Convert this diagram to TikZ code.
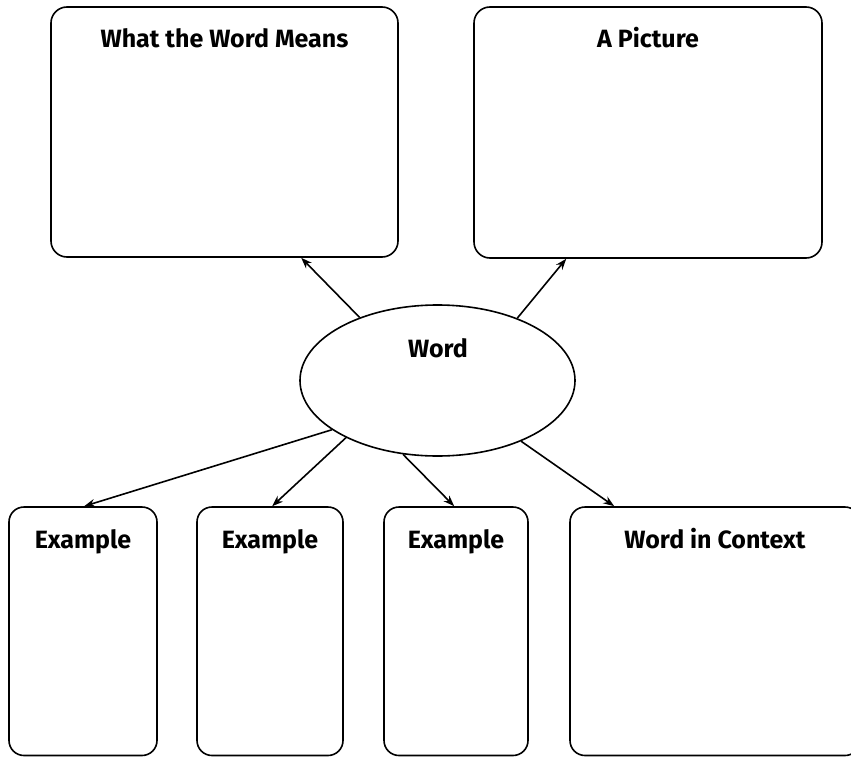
\documentclass[tikz,border=0pt]{standalone}
\usepackage{fontspec}
\setmainfont{Fira Sans}
\usetikzlibrary{shapes.geometric,arrows.meta,calc}
\tikzset{
  box/.style={draw=black, line width=1.6pt, rounded corners=16pt, rectangle, inner sep=0pt, fill=white},
  oval/.style={draw=black, line width=1.6pt, ellipse, inner sep=0pt, minimum width=275pt, minimum height=151pt},
  title/.style={anchor=base, inner sep=0pt, font=\fontsize{25}{30}\selectfont\bfseries},
  conn/.style={line width=1.6pt, -{Stealth[length=11pt,width=8pt]}}
}
\begin{document}
\begin{tikzpicture}[x=1pt,y=-1pt]
\useasboundingbox[fill=white] (0,0) rectangle (851,757);
\clip (0,0) rectangle (851,757);
% boxes
\node[box, minimum width=347pt, minimum height=250pt] (mean) at (224.5,132) {};
\node[box, minimum width=348pt, minimum height=251pt] (pic) at (648,132.5) {};
\node[box, rounded corners=15pt, minimum width=148pt, minimum height=248.5pt] (ex1) at (83,631.25) {};
\node[box, rounded corners=15pt, minimum width=146pt, minimum height=248.5pt] (ex2) at (270,631.25) {};
\node[box, rounded corners=15pt, minimum width=144pt, minimum height=248.5pt] (ex3) at (456,631.25) {};
\node[box, rounded corners=15pt, minimum width=290pt, minimum height=248.5pt] (ctx) at (715,631.25) {};
\node[oval] (word) at (437.5,380.5) {};
% titles
\node[title] (tmean) at (224.5,47.5) {What the Word Means};
\node[title] (tpic) at (648,47.5) {A Picture};
\node[title] (tword) at (438,357) {Word};
\node[title] (tex1) at (83,548) {Example};
\node[title] (tex2) at (270,548) {Example};
\node[title] (tex3) at (456,548) {Example};
\node[title] (tctx) at (715,548) {Word in Context};
% connectors
\draw[conn] (word.141.1) -- ($(mean.south west)+(251,0)$);
\draw[conn] (word.38.9) -- ($(pic.south west)+(93,0)$);
\draw[conn] (word.205.6) -- ($(ex1.north west)+(76,0)$);
\draw[conn] (word.212.9) -- ($(ex2.north west)+(76,0)$);
\draw[conn] (word.245.2) -- ($(ex3.north west)+(71,0)$);
\draw[conn] (word.324) -- ($(ctx.north west)+(45,0)$);
\end{tikzpicture}
\end{document}
